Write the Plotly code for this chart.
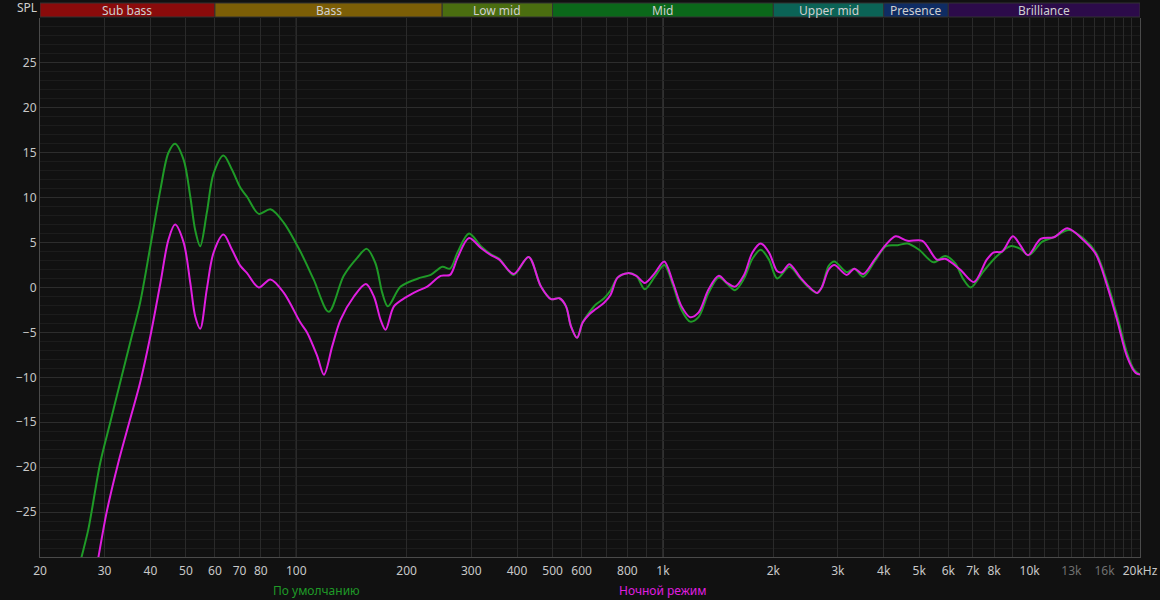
import plotly.graph_objects as go
import math

# ---------------- data ----------------
freq_default = [25.6, 26.0, 27.1, 29.2, 31.1, 33.4, 35.6, 37.5, 40.0, 42.6, 44.8, 46.7, 49.3, 51.4, 53.0,
                54.7, 57.0, 59.5, 63.3, 66.8, 70.4, 73.4, 79.0, 85.0, 92.5, 102.6, 111.5, 122.6, 134.7,
                146.6, 155.7, 164.4, 171.6, 177.8, 192.6, 218.2, 232.6, 250.2, 262.6, 275.2, 295.8, 318.8,
                339.6, 357.8, 391.6, 430, 464.8, 495, 522, 544, 561, 583, 604, 629, 656, 691, 720, 752,
                802, 846, 892, 950, 1008, 1066, 1124, 1186, 1250, 1332, 1420, 1498, 1572, 1664, 1754,
                1848, 1946, 2050, 2212, 2370, 2498, 2634, 2710, 2832, 2934, 3172, 3326, 3516, 3778, 4062,
                4366, 4644, 4992, 5472, 5886, 6264, 6600, 6910, 7484, 8148, 8862, 9436, 9950, 10830,
                11650, 12810, 14080, 15160, 16300, 17340, 18440, 19240, 20000]
spl_default = [-31, -29.9, -26.9, -19.5, -15.0, -9.9, -5.4, -1.7, 4.6, 10.9, 15.0, 16.0, 14.2, 10.1, 6.4,
               4.6, 8.3, 12.7, 14.7, 13.1, 11.1, 10.1, 8.2, 8.7, 7.2, 4.0, 0.9, -2.7, 1.3,
               3.3, 4.3, 2.7, -0.6, -2.1, 0.1, 1.1, 1.4, 2.3, 2.1, 3.9, 6.0, 4.6,
               3.7, 3.2, 1.4, 3.4, 0.1, -1.3, -1.2, -2.1, -4.3, -5.6, -3.9, -2.8, -1.9, -1.2, -0.3, 1.1,
               1.6, 1.3, -0.2, 1.2, 2.5, 0.2, -2.5, -3.8, -3.3, -0.6, 1.1, 0.4, -0.3, 1.0, 3.2,
               4.2, 3.1, 1.0, 2.3, 1.0, 0.0, -0.6, 0.0, 2.4, 2.9, 1.7, 2.1, 1.2, 2.9, 4.6,
               4.7, 4.9, 4.2, 2.8, 3.5, 2.7, 0.9, 0.0, 1.8, 3.5, 4.6, 4.3, 3.6, 5.1,
               5.6, 6.4, 5.4, 3.9, 0.5, -3.2, -7.3, -9.1, -9.7]

freq_night = [28.6, 28.9, 30.4, 32.7, 35.2, 37.5, 40.0, 42.6, 44.8, 46.7, 49.3, 51.4, 53.0, 54.7, 57.0,
              59.5, 63.3, 66.8, 70.4, 73.4, 79.0, 85.0, 92.5, 102.6, 107, 114, 119, 125.4, 132, 143.6,
              154.8, 162.8, 169.8, 175.2, 184.6, 198.8, 213.6, 227.6, 247.6, 262.6, 275.2, 295.8, 318.8,
              339.6, 357.8, 391.6, 430, 464.8, 495, 522, 544, 561, 583, 604, 629, 656, 691, 720, 752,
              802, 846, 892, 950, 1008, 1066, 1124, 1186, 1250, 1332, 1420, 1498, 1572, 1664, 1754,
              1848, 1946, 2050, 2110, 2212, 2370, 2498, 2634, 2710, 2832, 2934, 3172, 3326, 3516, 3778,
              4062, 4312, 4644, 5100, 5588, 5886, 6460, 7050, 7640, 7980, 8410, 9000, 9436, 9900,
              10720, 11650, 12680, 14080, 15160, 16300, 17340, 18440, 19440, 20000]
spl_night = [-31, -29.9, -25.0, -19.5, -14.7, -10.6, -5.4, 0.5, 5.3, 7.0, 5.0, 0.5, -3.2, -4.6, -0.2,
             3.9, 5.9, 4.2, 2.4, 1.6, 0.0, 0.9, -0.6, -3.9, -5.0, -7.6, -9.7, -6.5, -3.6, -1.0,
             0.4, -1.0, -3.6, -4.7, -2.1, -1.1, -0.4, 0.1, 1.3, 1.4, 3.3, 5.5, 4.4,
             3.6, 3.1, 1.5, 3.4, 0.1, -1.3, -1.2, -2.1, -4.3, -5.6, -3.9, -3.0, -2.4, -1.7, -0.8, 1.1,
             1.6, 1.3, 0.5, 1.6, 2.9, 0.5, -2.1, -3.3, -2.8, -0.2, 1.3, 0.5, 0.1, 1.4, 3.9,
             4.9, 3.9, 1.8, 1.7, 2.6, 1.1, 0.1, -0.6, 0.0, 2.0, 2.5, 1.4, 2.1, 1.5, 3.1,
             4.8, 5.7, 5.2, 5.2, 3.1, 3.2, 2.0, 0.6, 3.1, 3.9, 4.0, 5.7, 4.7, 3.6,
             5.4, 5.6, 6.6, 5.2, 3.7, 0.1, -3.7, -7.7, -9.5, -9.7]

series_names = ["По умолчанию", "Ночной режим"]
series_colors = ["#1f9a27", "#e01ee0"]

x_tick_vals = [20, 30, 40, 50, 60, 70, 80, 90, 100, 200, 300, 400, 500, 600, 700, 800, 900, 1000,
               2000, 3000, 4000, 5000, 6000, 7000, 8000, 9000, 10000, 11000, 12000, 13000, 14000,
               15000, 16000, 17000, 18000, 19000, 20000]
x_tick_text = ["20", "30", "40", "50", "60", "70", "80", "", "100", "200", "300", "400", "500", "600",
               "", "800", "", "1k", "2k", "3k", "4k", "5k", "6k", "7k", "8k", "", "10k", "", "",
               "<span style='color:#707070'>13k</span>", "", "", "<span style='color:#707070'>16k</span>",
               "", "", "", "20kHz"]
y_tick_vals = [-25, -20, -15, -10, -5, 0, 5, 10, 15, 20, 25]
decade_lines = [100, 1000, 10000]

band_names = ["Sub bass", "Bass", "Low mid", "Mid", "Upper mid", "Presence", "Brilliance"]
band_edges = [20, 60, 250, 500, 2000, 4000, 6000, 20000]
band_colors = ["#8a0b0b", "#7c5e06", "#4a6d10", "#0b681a", "#0b6356", "#0f2c63", "#2c0b4a"]

# ---------------- figure ----------------
FONT = "Noto Sans, Open Sans, sans-serif"
W, H = 1160, 600
ML, MR, MT, MB = 40, 20, 18, 43
plot_h = H - MT - MB
plot_w = W - ML - MR

fig = go.Figure()
for fx, fy, nm, col in [(freq_default, spl_default, series_names[0], series_colors[0]),
                        (freq_night, spl_night, series_names[1], series_colors[1])]:
    fig.add_trace(go.Scatter(x=fx, y=fy, name=nm, mode="lines",
                             line=dict(color=col, width=2, shape="spline", smoothing=0.9),
                             hoverinfo="x+y+name"))

shapes = []
for v in decade_lines:
    shapes.append(dict(type="line", xref="x", yref="paper", x0=v, x1=v, y0=0, y1=1,
                       line=dict(color="#565656", width=1), layer="below"))
for i, nm in enumerate(band_names):
    shapes.append(dict(type="rect", xref="x", yref="paper",
                       x0=band_edges[i], x1=band_edges[i + 1],
                       y0=1 + 1 / plot_h, y1=1 + 15 / plot_h,
                       fillcolor=band_colors[i], line=dict(color="#333333", width=1), layer="above"))

annotations = []
for i, nm in enumerate(band_names):
    xm = (math.log10(band_edges[i]) + math.log10(band_edges[i + 1])) / 2
    annotations.append(dict(x=xm, xref="x", y=1 + 7.5 / plot_h, yref="paper", text=nm,
                            showarrow=False, font=dict(family=FONT, size=12, color="#cfcfcf"),
                            xanchor="center", yanchor="middle"))
annotations.append(dict(x=0, xref="paper", y=1 + 10 / plot_h, yref="paper", text="SPL",
                        showarrow=False, xanchor="right", yanchor="middle", xshift=-1,
                        font=dict(family=FONT, size=12, color="#cfcfcf")))
legend_x = [(316 - ML) / plot_w, (663 - ML) / plot_w]
for i, nm in enumerate(series_names):
    annotations.append(dict(x=legend_x[i], xref="paper", y=-33 / plot_h, yref="paper", text=nm,
                            showarrow=False, xanchor="center", yanchor="middle",
                            font=dict(family=FONT, size=12, color=series_colors[i])))

fig.update_layout(
    width=W, height=H,
    margin=dict(l=ML, r=MR, t=MT, b=MB, autoexpand=False),
    paper_bgcolor="#111111", plot_bgcolor="#111111",
    showlegend=False,
    font=dict(family=FONT, size=12, color="#c8c8c8"),
    shapes=shapes, annotations=annotations,
    xaxis=dict(type="log", range=[math.log10(20), math.log10(20000)],
               tickmode="array", tickvals=x_tick_vals, ticktext=x_tick_text,
               showgrid=True, gridcolor="#2a2a2a", gridwidth=1,
               showline=True, linecolor="#4a4a4a", linewidth=1,
               ticks="outside", ticklen=3, tickcolor="rgba(0,0,0,0)",
               zeroline=False, automargin=False,
               tickfont=dict(family=FONT, size=12, color="#c8c8c8")),
    yaxis=dict(range=[-30, 30], tickmode="array", tickvals=y_tick_vals,
               showgrid=True, gridcolor="#2d2d2d", gridwidth=1,
               minor=dict(dtick=1, tick0=0, showgrid=True, gridcolor="#1c1c1c", gridwidth=1),
               showline=True, linecolor="#4a4a4a", linewidth=1, mirror=True,
               zeroline=False, ticks="", automargin=False,
               tickfont=dict(family=FONT, size=12, color="#c8c8c8")),
)

# remove the browser's default page margin so the figure sits at the window origin
page_js = ("document.body.style.margin='0';document.body.style.padding='0';"
           "document.body.style.background='#111111';document.body.style.overflow='hidden';")
fig.write_html("out.html", post_script=page_js, config={"displayModeBar": False})
